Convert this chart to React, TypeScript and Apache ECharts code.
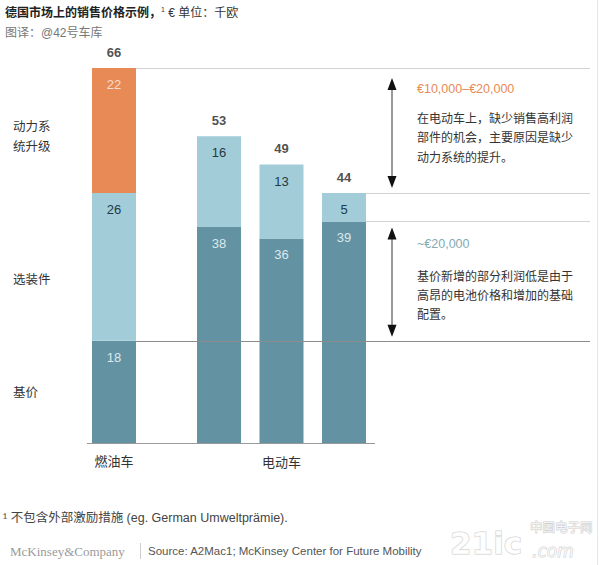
import React, { useEffect, useRef } from 'react';
import * as echarts from 'echarts';

// ---------- data ----------
const iceCategories = ['燃油车'];
const iceBase = [18];
const iceOptions = [26];
const icePowertrain = [22];
const iceTotals = [66];

const evCategories = ['电动车 A', '电动车 B', '电动车 C'];
const evGroupName = '电动车';
const evBase = [38, 36, 39];
const evOptions = [16, 13, 5];
const evTotals = [53, 49, 44];

const segmentNames = ['基价', '选装件', '动力系统升级'];
const segmentAxisLabels = ['基价', '选装件', '动力系\n统升级'];
const yMax = 66;

const titleBold = '德国市场上的销售价格示例，';
const titleUnit = ' € 单位：千欧';
const subtitle = '图译：@42号车库';
const note1Title = '€10,000–€20,000';
const note1Body = '在电动车上，缺少销售高利润\n部件的机会，主要原因是缺少\n动力系统的提升。';
const note2Title = '~€20,000';
const note2Body = '基价新增的部分利润低是由于\n高昂的电池价格和增加的基础\n配置。';
const footnote = '¹ 不包含外部激励措施 (eg. German Umweltprämie).';
const brand = 'McKinsey&Company';
const source = 'Source: A2Mac1; McKinsey Center for Future Mobility';

// ---------- styles ----------
const FONT = "'Liberation Sans', 'Noto Sans CJK SC', sans-serif";
const DARK = '#6392a2';
const LIGHT = '#a2cdd8';
const ORANGE = '#e88a55';
const BAR_W = 44;

const lightLabel = {
  show: true,
  position: 'insideTop' as const,
  distance: 10,
  fontSize: 13,
  color: '#dbe9ed',
  fontFamily: FONT,
};
const darkLabel = { ...lightLabel, color: '#1e3a46' };
const orangeLabel = { ...lightLabel, color: '#f9dccb' };
const totalLabel = {
  show: true,
  position: 'top' as const,
  distance: 9,
  fontSize: 13,
  fontWeight: 'bold' as const,
  color: '#222',
  fontFamily: FONT,
};

export default function App() {
  const ref = useRef<HTMLDivElement>(null);

  useEffect(() => {
    if (!ref.current) return;
    const chart = echarts.init(ref.current, undefined, { renderer: 'svg' });

    const gridTop = 68;
    const gridHeight = 375;

    const yAxisCommon = {
      type: 'value' as const,
      min: 0,
      max: yMax,
      show: false,
      splitLine: { show: false },
    };

    chart.setOption({
      animation: false,
      textStyle: { fontFamily: FONT },
      grid: [
        { left: 82.75, width: 62.5, top: gridTop, height: gridHeight },
        { left: 187.75, width: 187.5, top: gridTop, height: gridHeight },
      ],
      xAxis: [
        {
          type: 'category',
          gridIndex: 0,
          data: iceCategories,
          axisLine: { show: false },
          axisTick: { show: false },
          axisLabel: { show: true, margin: 12, fontSize: 13, color: '#333' },
        },
        {
          type: 'category',
          gridIndex: 1,
          data: evCategories,
          axisLine: { show: false },
          axisTick: { show: false },
          axisLabel: { show: false },
          name: evGroupName,
          nameLocation: 'middle',
          nameGap: 13,
          nameTextStyle: { fontSize: 13, color: '#333' },
        },
      ],
      yAxis: [
        { ...yAxisCommon, gridIndex: 0 },
        { ...yAxisCommon, gridIndex: 1 },
      ],
      series: [
        {
          type: 'bar', name: segmentNames[0], xAxisIndex: 0, yAxisIndex: 0, stack: 'ice',
          data: iceBase, barWidth: BAR_W, itemStyle: { color: DARK }, label: lightLabel,
        },
        {
          type: 'bar', name: segmentNames[1], xAxisIndex: 0, yAxisIndex: 0, stack: 'ice',
          data: iceOptions, barWidth: BAR_W, itemStyle: { color: LIGHT }, label: darkLabel,
        },
        {
          type: 'bar', name: segmentNames[2], xAxisIndex: 0, yAxisIndex: 0, stack: 'ice',
          data: icePowertrain, barWidth: BAR_W, itemStyle: { color: ORANGE }, label: orangeLabel,
        },
        {
          type: 'scatter', xAxisIndex: 0, yAxisIndex: 0,
          data: iceBase.map((v, i) => v + iceOptions[i] + icePowertrain[i]),
          symbolSize: 1, itemStyle: { color: 'rgba(0,0,0,0)' }, silent: true,
          label: { ...totalLabel, formatter: (p: any) => String(iceTotals[p.dataIndex]) },
        },
        {
          type: 'bar', name: segmentNames[0], xAxisIndex: 1, yAxisIndex: 1, stack: 'ev',
          data: evBase, barWidth: BAR_W, itemStyle: { color: DARK }, label: lightLabel,
        },
        {
          type: 'bar', name: segmentNames[1], xAxisIndex: 1, yAxisIndex: 1, stack: 'ev',
          data: evOptions, barWidth: BAR_W, itemStyle: { color: LIGHT }, label: darkLabel,
        },
        {
          type: 'scatter', xAxisIndex: 1, yAxisIndex: 1,
          data: evBase.map((v, i) => v + evOptions[i]),
          symbolSize: 1, itemStyle: { color: 'rgba(0,0,0,0)' }, silent: true,
          label: { ...totalLabel, formatter: (p: any) => String(evTotals[p.dataIndex]) },
        },
      ],
    });

    const yPx = (v: number) => chart.convertToPixel({ yAxisIndex: 0 }, v) as number;
    const iceX = chart.convertToPixel({ xAxisIndex: 0 }, iceCategories[0]) as number;
    const evLastX = chart.convertToPixel({ xAxisIndex: 1 }, evCategories[evCategories.length - 1]) as number;
    const iceRight = iceX + BAR_W / 2;
    const evRight = evLastX + BAR_W / 2;
    const lineEnd = 590;

    const iceTop = iceBase[0] + iceOptions[0] + icePowertrain[0];
    const iceBaseTop = iceBase[0];
    const lastIdx = evBase.length - 1;
    const evTop = evBase[lastIdx] + evOptions[lastIdx];
    const evBaseTop = evBase[lastIdx];

    const hline = (x1: number, x2: number, y: number, stroke: string, z = 50) => ({
      type: 'line',
      z,
      shape: { x1, y1: Math.round(y) + 0.5, x2, y2: Math.round(y) + 0.5 },
      style: { stroke, lineWidth: 1 },
      silent: true,
    });

    const arrowX = 392;
    const arrow = (yTop: number, yBot: number) => [
      {
        type: 'line', z: 50,
        shape: { x1: arrowX, y1: yTop + 8, x2: arrowX, y2: yBot - 8 },
        style: { stroke: '#555', lineWidth: 1.2 },
      },
      {
        type: 'polygon', z: 50,
        shape: { points: [[arrowX, yTop], [arrowX - 4.5, yTop + 12], [arrowX + 4.5, yTop + 12]] },
        style: { fill: '#111' },
      },
      {
        type: 'polygon', z: 50,
        shape: { points: [[arrowX, yBot], [arrowX - 4.5, yBot - 12], [arrowX + 4.5, yBot - 12]] },
        style: { fill: '#111' },
      },
    ];

    const txt = (x: number, y: number, text: string, extra: any = {}) => ({
      type: 'text',
      z: 60,
      x,
      y,
      style: {
        text,
        fontFamily: FONT,
        fontSize: 12,
        fill: '#333',
        verticalAlign: 'middle',
        align: 'left',
        ...extra,
      },
    });

    const noteX = 417;
    const y66 = yPx(iceTop);
    const y18 = yPx(iceBaseTop);
    const y44 = yPx(evTop);
    const y39 = yPx(evBaseTop);
    const y0 = yPx(0);

    const watermarkStyle = {
      fill: 'rgba(255,255,255,0.75)',
      stroke: '#cfcfcf',
      lineWidth: 1,
      fontFamily: "'DejaVu Sans', 'Noto Sans CJK SC', sans-serif",
    };

    chart.setOption({
      graphic: [
        // baseline
        {
          type: 'line', z: 50,
          shape: { x1: iceX - 27, y1: Math.round(y0) + 0.5, x2: evRight + 9, y2: Math.round(y0) + 0.5 },
          style: { stroke: '#9a9a9a', lineWidth: 1 },
        },
        hline(iceRight, lineEnd, y66, '#d2d2d2'),
        hline(iceRight, lineEnd, y18, '#8c8c8c', 50),
        hline(evRight, lineEnd, y44, '#d2d2d2'),
        hline(evRight, lineEnd, y39, '#d2d2d2'),
        ...arrow(y66 + 10, y44 - 5),
        ...arrow(y39 + 6, y18 - 4),
        // right border
        {
          type: 'line', z: 10,
          shape: { x1: 597.5, y1: 0, x2: 597.5, y2: 565 },
          style: { stroke: '#e6e6e6', lineWidth: 1 },
        },
        // title
        {
          type: 'text', z: 60, x: 5, y: 13,
          style: {
            text: `{b|${titleBold}}{s|1}{n|${titleUnit}}`,
            verticalAlign: 'middle',
            align: 'left',
            fontFamily: FONT,
            rich: {
              b: { fontSize: 12, fontWeight: 'bold', fill: '#222', fontFamily: FONT },
              s: { fontSize: 7, fill: '#333', verticalAlign: 'top', padding: [0, 0, 8, 0], fontFamily: FONT },
              n: { fontSize: 12, fill: '#333', fontFamily: FONT },
            },
          },
        },
        txt(5, 33, subtitle, { fill: '#777' }),
        // left segment labels
        txt(13, 137, segmentAxisLabels[2], { lineHeight: 20, fontSize: 12.5 }),
        txt(13, 280, segmentAxisLabels[1], { fontSize: 12.5 }),
        txt(13, 393, segmentAxisLabels[0], { fontSize: 12.5 }),
        // notes
        txt(noteX, y66 + 21, note1Title, { fill: ORANGE, fontSize: 12.5 }),
        txt(noteX, y66 + 70, note1Body, { lineHeight: 19.5, fontSize: 12 }),
        txt(noteX, y39 + 23, note2Title, { fill: '#83aab4', fontSize: 12.5 }),
        txt(noteX, y39 + 75, note2Body, { lineHeight: 19, fontSize: 12 }),
        // footnote and source
        txt(3, 518, footnote, { fontSize: 12.5, fill: '#444' }),
        txt(10, 551, brand, { fontSize: 13, fill: '#9a9a9a', fontFamily: "'Liberation Serif', 'DejaVu Serif', serif" }),
        {
          type: 'line', z: 50,
          shape: { x1: 140.5, y1: 543, x2: 140.5, y2: 559 },
          style: { stroke: '#cfcfcf', lineWidth: 1 },
        },
        txt(148, 551, source, { fontSize: 11.5, fill: '#555' }),
        // watermark
        {
          type: 'text', z: 70, x: 450, y: 543,
          style: { text: '21ic', fontSize: 31, fontWeight: 'bold', verticalAlign: 'middle', ...watermarkStyle },
        },
        {
          type: 'text', z: 70, x: 530, y: 527,
          style: { text: '中国电子网', fontSize: 12.5, verticalAlign: 'middle', ...watermarkStyle },
        },
        {
          type: 'text', z: 70, x: 532, y: 551,
          style: { text: '.com', fontSize: 17, fontStyle: 'italic', verticalAlign: 'middle', ...watermarkStyle },
        },
      ],
    });

    return () => chart.dispose();
  }, []);

  return (
    <div
      ref={ref}
      style={{ position: 'fixed', left: 0, top: 0, width: 600, height: 565, background: '#fff' }}
    />
  );
}
